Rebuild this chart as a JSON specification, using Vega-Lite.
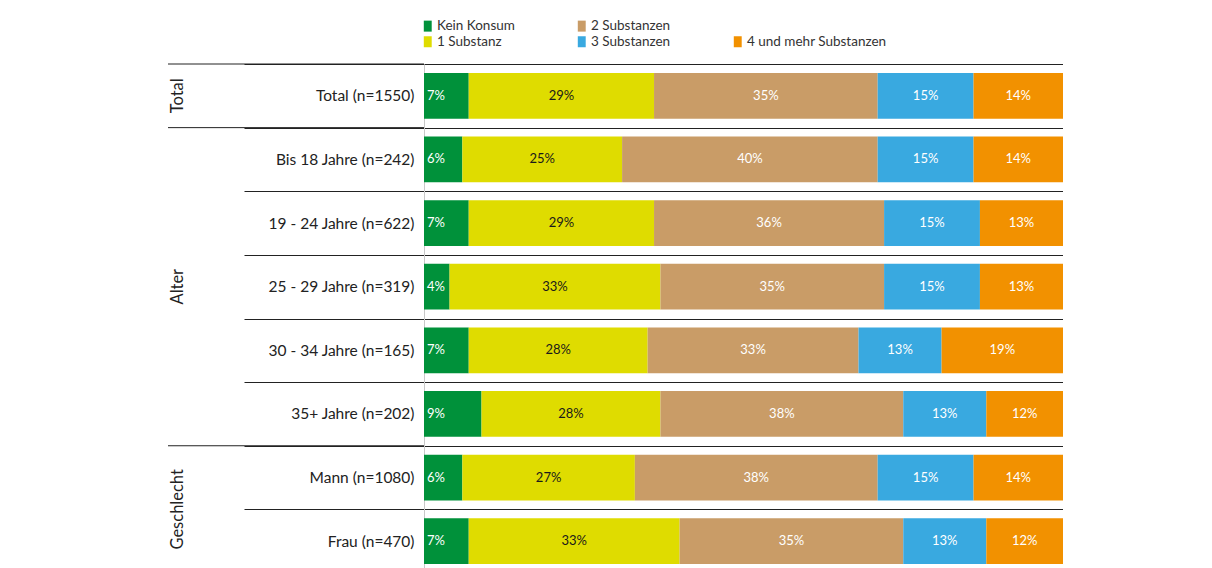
{
  "$schema": "https://vega.github.io/schema/vega-lite/v6.json",
  "padding": {"left": 167, "top": 19, "right": 0, "bottom": 0},
  "background": "white",
  "config": {"view": {"stroke": null}, "font": "Lato", "concat": {"spacing": 0}},
  "spacing": 0,
  "bounds": "flush",
  "datasets": {
    "bars": [
      {"row": "Total (n=1550)", "cat": "Kein Konsum", "ord": 1, "value": 0.07},
      {"row": "Total (n=1550)", "cat": "1 Substanz", "ord": 2, "value": 0.29},
      {"row": "Total (n=1550)", "cat": "2 Substanzen", "ord": 3, "value": 0.35},
      {"row": "Total (n=1550)", "cat": "3 Substanzen", "ord": 4, "value": 0.15},
      {"row": "Total (n=1550)", "cat": "4 und mehr Substanzen", "ord": 5, "value": 0.14},
      {"row": "Bis 18 Jahre (n=242)", "cat": "Kein Konsum", "ord": 1, "value": 0.06},
      {"row": "Bis 18 Jahre (n=242)", "cat": "1 Substanz", "ord": 2, "value": 0.25},
      {"row": "Bis 18 Jahre (n=242)", "cat": "2 Substanzen", "ord": 3, "value": 0.40},
      {"row": "Bis 18 Jahre (n=242)", "cat": "3 Substanzen", "ord": 4, "value": 0.15},
      {"row": "Bis 18 Jahre (n=242)", "cat": "4 und mehr Substanzen", "ord": 5, "value": 0.14},
      {"row": "19 - 24 Jahre (n=622)", "cat": "Kein Konsum", "ord": 1, "value": 0.07},
      {"row": "19 - 24 Jahre (n=622)", "cat": "1 Substanz", "ord": 2, "value": 0.29},
      {"row": "19 - 24 Jahre (n=622)", "cat": "2 Substanzen", "ord": 3, "value": 0.36},
      {"row": "19 - 24 Jahre (n=622)", "cat": "3 Substanzen", "ord": 4, "value": 0.15},
      {"row": "19 - 24 Jahre (n=622)", "cat": "4 und mehr Substanzen", "ord": 5, "value": 0.13},
      {"row": "25 - 29 Jahre (n=319)", "cat": "Kein Konsum", "ord": 1, "value": 0.04},
      {"row": "25 - 29 Jahre (n=319)", "cat": "1 Substanz", "ord": 2, "value": 0.33},
      {"row": "25 - 29 Jahre (n=319)", "cat": "2 Substanzen", "ord": 3, "value": 0.35},
      {"row": "25 - 29 Jahre (n=319)", "cat": "3 Substanzen", "ord": 4, "value": 0.15},
      {"row": "25 - 29 Jahre (n=319)", "cat": "4 und mehr Substanzen", "ord": 5, "value": 0.13},
      {"row": "30 - 34 Jahre (n=165)", "cat": "Kein Konsum", "ord": 1, "value": 0.07},
      {"row": "30 - 34 Jahre (n=165)", "cat": "1 Substanz", "ord": 2, "value": 0.28},
      {"row": "30 - 34 Jahre (n=165)", "cat": "2 Substanzen", "ord": 3, "value": 0.33},
      {"row": "30 - 34 Jahre (n=165)", "cat": "3 Substanzen", "ord": 4, "value": 0.13},
      {"row": "30 - 34 Jahre (n=165)", "cat": "4 und mehr Substanzen", "ord": 5, "value": 0.19},
      {"row": "35+ Jahre (n=202)", "cat": "Kein Konsum", "ord": 1, "value": 0.09},
      {"row": "35+ Jahre (n=202)", "cat": "1 Substanz", "ord": 2, "value": 0.28},
      {"row": "35+ Jahre (n=202)", "cat": "2 Substanzen", "ord": 3, "value": 0.38},
      {"row": "35+ Jahre (n=202)", "cat": "3 Substanzen", "ord": 4, "value": 0.13},
      {"row": "35+ Jahre (n=202)", "cat": "4 und mehr Substanzen", "ord": 5, "value": 0.12},
      {"row": "Mann (n=1080)", "cat": "Kein Konsum", "ord": 1, "value": 0.06},
      {"row": "Mann (n=1080)", "cat": "1 Substanz", "ord": 2, "value": 0.27},
      {"row": "Mann (n=1080)", "cat": "2 Substanzen", "ord": 3, "value": 0.38},
      {"row": "Mann (n=1080)", "cat": "3 Substanzen", "ord": 4, "value": 0.15},
      {"row": "Mann (n=1080)", "cat": "4 und mehr Substanzen", "ord": 5, "value": 0.14},
      {"row": "Frau (n=470)", "cat": "Kein Konsum", "ord": 1, "value": 0.07},
      {"row": "Frau (n=470)", "cat": "1 Substanz", "ord": 2, "value": 0.33},
      {"row": "Frau (n=470)", "cat": "2 Substanzen", "ord": 3, "value": 0.35},
      {"row": "Frau (n=470)", "cat": "3 Substanzen", "ord": 4, "value": 0.13},
      {"row": "Frau (n=470)", "cat": "4 und mehr Substanzen", "ord": 5, "value": 0.12}
    ],
    "groups": [
      {"group": "Total", "first": "Total (n=1550)", "mid": "Total (n=1550)"},
      {"group": "Alter", "first": "Bis 18 Jahre (n=242)", "mid": "25 - 29 Jahre (n=319)"},
      {"group": "Geschlecht", "first": "Mann (n=1080)", "mid": "Mann (n=1080)"}
    ]
  },
  "hconcat": [
    {
      "width": 20,
      "height": 509,
      "data": {"name": "groups"},
      "layer": [
        {
          "mark": {"type": "rule", "color": "#222", "strokeWidth": 1},
          "encoding": {
            "y": {"field": "first", "type": "nominal", "bandPosition": 0, "axis": null,
              "scale": {"domain": ["Total (n=1550)", "Bis 18 Jahre (n=242)", "19 - 24 Jahre (n=622)", "25 - 29 Jahre (n=319)", "30 - 34 Jahre (n=165)", "35+ Jahre (n=202)", "Mann (n=1080)", "Frau (n=470)"], "paddingInner": 0, "paddingOuter": 0}}
          }
        },
        {
          "transform": [{"filter": "datum.group !== 'Geschlecht'"}],
          "mark": {"type": "text", "angle": 270, "font": "Lato", "fontSize": 16.5, "color": "#222", "align": "center", "baseline": "middle"},
          "encoding": {
            "y": {"field": "mid", "type": "nominal", "axis": null,
              "scale": {"domain": ["Total (n=1550)", "Bis 18 Jahre (n=242)", "19 - 24 Jahre (n=622)", "25 - 29 Jahre (n=319)", "30 - 34 Jahre (n=165)", "35+ Jahre (n=202)", "Mann (n=1080)", "Frau (n=470)"], "paddingInner": 0, "paddingOuter": 0}},
            "text": {"field": "group", "type": "nominal"}
          }
        },
        {
          "transform": [{"filter": "datum.group === 'Geschlecht'"}],
          "mark": {"type": "text", "angle": 270, "font": "Lato", "fontSize": 16.5, "color": "#222", "align": "center", "baseline": "middle"},
          "encoding": {
            "y": {"field": "mid", "type": "nominal", "bandPosition": 1, "axis": null,
              "scale": {"domain": ["Total (n=1550)", "Bis 18 Jahre (n=242)", "19 - 24 Jahre (n=622)", "25 - 29 Jahre (n=319)", "30 - 34 Jahre (n=165)", "35+ Jahre (n=202)", "Mann (n=1080)", "Frau (n=470)"], "paddingInner": 0, "paddingOuter": 0}},
            "text": {"field": "group", "type": "nominal"}
          }
        }
      ]
    },
    {
      "width": 236,
      "height": 509,
      "data": {"name": "groups"},
      "mark": {"type": "rule", "color": "#222", "strokeWidth": 1},
      "encoding": {
        "y": {"field": "first", "type": "nominal", "bandPosition": 0, "axis": null,
          "scale": {"domain": ["Total (n=1550)", "Bis 18 Jahre (n=242)", "19 - 24 Jahre (n=622)", "25 - 29 Jahre (n=319)", "30 - 34 Jahre (n=165)", "35+ Jahre (n=202)", "Mann (n=1080)", "Frau (n=470)"], "paddingInner": 0, "paddingOuter": 0}}
      }
    },
    {
      "width": 639,
      "height": 509,
      "data": {"name": "bars"},
      "encoding": {
        "y": {
          "field": "row", "type": "nominal",
          "scale": {"domain": ["Total (n=1550)", "Bis 18 Jahre (n=242)", "19 - 24 Jahre (n=622)", "25 - 29 Jahre (n=319)", "30 - 34 Jahre (n=165)", "35+ Jahre (n=202)", "Mann (n=1080)", "Frau (n=470)"], "paddingInner": 0, "paddingOuter": 0},
          "axis": {
            "title": null, "orient": "left", "tickBand": "extent",
            "ticks": true, "tickSize": 180, "tickColor": "#222", "tickWidth": 1,
            "grid": true, "gridColor": "#222", "gridWidth": 1,
            "domain": true, "domainColor": "#c8c8c8", "domainWidth": 1,
            "labelPadding": -170, "labelFont": "Lato", "labelFontSize": 15.5, "labelColor": "#222", "labelLimit": 300
          }
        }
      },
      "layer": [
        {
          "mark": {"type": "bar", "height": {"band": 0.72}},
          "encoding": {
            "x": {"field": "value", "type": "quantitative", "stack": "zero", "scale": {"domain": [0, 1], "nice": false}, "axis": null},
            "color": {
              "field": "cat", "type": "nominal",
              "scale": {
                "domain": ["Kein Konsum", "2 Substanzen", " ", "1 Substanz", "3 Substanzen", "4 und mehr Substanzen"],
                "range": ["#00913A", "#C99C67", "rgba(0,0,0,0)", "#DFDC00", "#39A9E0", "#F29100"]
              },
              "legend": {
                "orient": "none", "legendX": 253, "legendY": -45,
                "direction": "horizontal", "columns": 3, "title": null,
                "symbolType": "M-0.72,-1H0.72V1H-0.72Z", "symbolSize": 121, "symbolStrokeWidth": 0,
                "labelFont": "Lato", "labelFontSize": 13.5, "labelColor": "#333", "labelOffset": 2.5,
                "columnPadding": 60, "rowPadding": 1, "padding": 0, "labelLimit": 300
              }
            },
            "order": {"field": "ord", "type": "quantitative"}
          }
        },
        {
          "mark": {"type": "text", "font": "Lato", "fontSize": 13, "baseline": "middle"},
          "encoding": {
            "x": {"field": "value", "type": "quantitative", "stack": "zero", "bandPosition": 0.5},
            "order": {"field": "ord", "type": "quantitative"},
            "text": {"condition": {"test": "datum.cat === 'Kein Konsum'", "value": ""}, "field": "value", "type": "quantitative", "format": ".0%"},
            "color": {"condition": {"test": "datum.cat === '1 Substanz'", "value": "#1a1a1a"}, "value": "#ffffff"}
          }
        },
        {
          "transform": [{"filter": "datum.cat === 'Kein Konsum'"}],
          "mark": {"type": "text", "font": "Lato", "fontSize": 13, "align": "left", "baseline": "middle", "dx": 3, "color": "#ffffff"},
          "encoding": {
            "x": {"datum": 0, "type": "quantitative"},
            "text": {"field": "value", "type": "quantitative", "format": ".0%"}
          }
        }
      ]
    }
  ]
}
